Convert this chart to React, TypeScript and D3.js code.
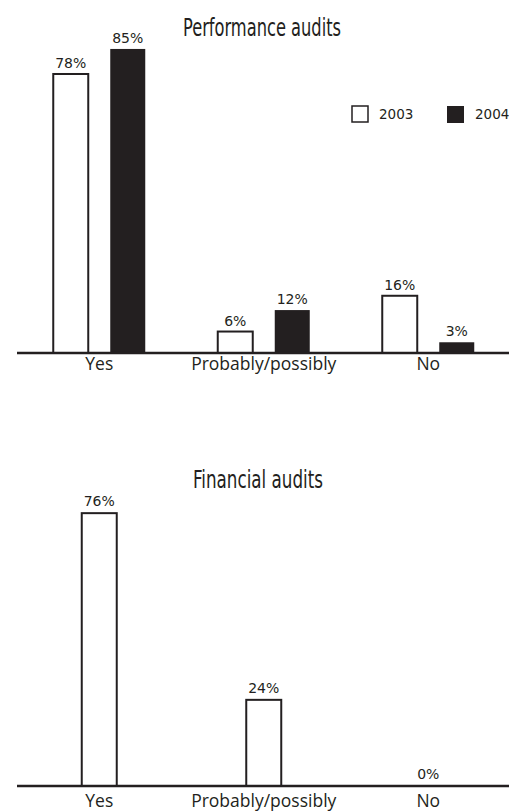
import React from "react";
import * as d3 from "d3";

const categories = ["Yes", "Probably/possibly", "No"];
const seriesNames = ["2003", "2004"];
const perf2003 = [78, 6, 16];
const perf2004 = [85, 12, 3];
const financial = [76, 24, 0];

const INK = "#231f20";
const W = 509;
const H = 811;
const labelFont = "'DejaVu Sans', sans-serif";
const axisFont = "'Open Sans', sans-serif";
const titleFont = "'Liberation Sans Narrow', 'DejaVu Sans Condensed', 'Roboto Condensed', sans-serif";

const x0 = d3.scaleBand<string>().domain(categories).range([17, 510.5]).paddingInner(0).paddingOuter(0);
const x1 = d3.scaleBand<string>().domain(seriesNames).range([-46, 46]).paddingInner(0.386).paddingOuter(0);

const yTop = d3.scaleLinear().domain([0, 100]).range([353, 353 - 357.7]);
const yBot = d3.scaleLinear().domain([0, 100]).range([786, 786 - 359]);

function Axis({ y, labelY }: { y: number; labelY: number }) {
  return (
    <g>
      <line x1={17} x2={W} y1={y} y2={y} stroke={INK} strokeWidth={2.5} />
      {categories.map((c) => (
        <text
          key={c}
          x={(x0(c) as number) + x0.bandwidth() / 2}
          y={labelY}
          textAnchor="middle"
          fontFamily={axisFont}
          fontSize={17.5}
          fill={INK}
        >
          {c}
        </text>
      ))}
    </g>
  );
}

export default function App() {
  const perfSeries = [perf2003, perf2004];
  return (
    <svg
      width={W}
      height={H}
      viewBox={`0 0 ${W} ${H}`}
      style={{ position: "absolute", left: 0, top: 0, background: "#fff" }}
    >
      <rect x={0} y={0} width={W} height={H} fill="#fff" />
      {/* Performance audits */}
      <text x={262} y={36} textAnchor="middle" fontFamily={titleFont} fontSize={24} fill={INK} textLength={158} lengthAdjust="spacingAndGlyphs">
        Performance audits
      </text>
      {categories.map((c, i) => {
        const cx = (x0(c) as number) + x0.bandwidth() / 2;
        return (
          <g key={c}>
            {seriesNames.map((s, si) => {
              const v = perfSeries[si][i];
              const bx = cx + (x1(s) as number);
              const top = yTop(v);
              return (
                <g key={s}>
                  <rect
                    x={bx}
                    y={top}
                    width={x1.bandwidth()}
                    height={yTop(0) - top}
                    fill={si === 0 ? "#fff" : INK}
                    stroke={INK}
                    strokeWidth={si === 0 ? 2 : 0}
                  />
                  <text
                    x={bx + x1.bandwidth() / 2}
                    y={top - 6}
                    textAnchor="middle"
                    fontFamily={labelFont}
                    fontSize={14}
                    fill={INK}
                  >
                    {v}%
                  </text>
                </g>
              );
            })}
          </g>
        );
      })}
      <Axis y={353} labelY={370} />
      {/* Legend */}
      <rect x={352} y={106} width={16} height={16} fill="#fff" stroke={INK} strokeWidth={1.5} />
      <text x={379} y={119} fontFamily={labelFont} fontSize={13.5} fill={INK}>{seriesNames[0]}</text>
      <rect x={447} y={106} width={17} height={17} fill={INK} />
      <text x={475} y={119} fontFamily={labelFont} fontSize={13.5} fill={INK}>{seriesNames[1]}</text>

      {/* Financial audits */}
      <text x={258} y={488} textAnchor="middle" fontFamily={titleFont} fontSize={24} fill={INK} textLength={130} lengthAdjust="spacingAndGlyphs">
        Financial audits
      </text>
      {categories.map((c, i) => {
        const cx = (x0(c) as number) + x0.bandwidth() / 2;
        const v = financial[i];
        const bw = x1.bandwidth();
        const top = yBot(v);
        return (
          <g key={c}>
            {v > 0 && (
              <rect x={cx - bw / 2} y={top} width={bw} height={yBot(0) - top} fill="#fff" stroke={INK} strokeWidth={2} />
            )}
            <text x={cx} y={top - 7} textAnchor="middle" fontFamily={labelFont} fontSize={14} fill={INK}>
              {v}%
            </text>
          </g>
        );
      })}
      <Axis y={786} labelY={807} />
    </svg>
  );
}
